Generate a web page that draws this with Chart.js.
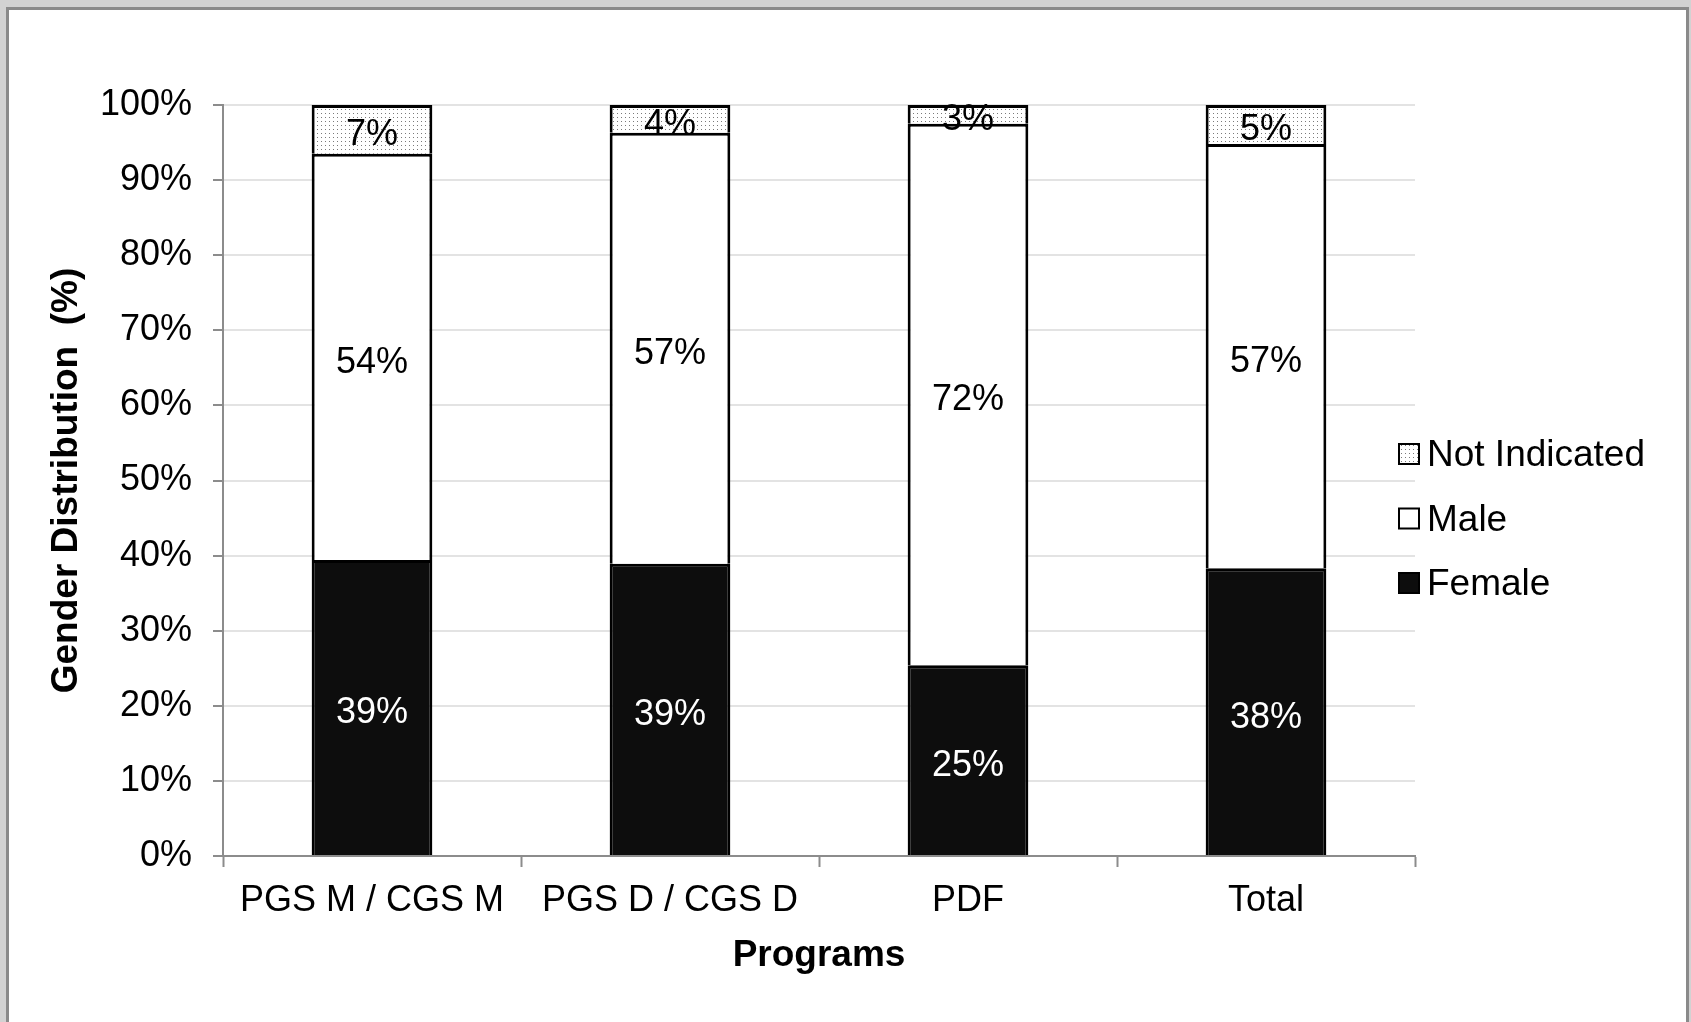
<!DOCTYPE html>
<html>
<head>
<meta charset="utf-8">
<script src="https://cdn.jsdelivr.net/npm/chart.js@4.4.1/dist/chart.umd.min.js"></script>
<style>
  html, body { margin: 0; padding: 0; width: 1691px; height: 1022px; overflow: hidden; background: #d2d2d2; }
  #frame { position: absolute; left: 6px; top: 7px; width: 1677px; height: 1040px; border: 3px solid #8a8a8a; background: #fff; }
  #wrap { position: absolute; left: 0; top: 0; width: 1691px; height: 1022px; }
</style>
</head>
<body>
<div id="frame"></div>
<div id="wrap"><canvas id="chart" width="1691" height="1022"></canvas></div>
<script>
// ---- data ----
const PROGRAMS      = ['PGS M / CGS M', 'PGS D / CGS D', 'PDF', 'Total'];
const FEMALE        = [39.4, 38.9, 25.4, 38.3];
const MALE          = [54.1, 57.4, 72.1, 56.5];
const NOT_INDICATED = [6.5, 3.7, 2.5, 5.2];
const Y_MIN = 0, Y_MAX = 100, Y_STEP = 10;

const FONT = '"Liberation Sans", Arial, sans-serif';
Chart.defaults.font.family = FONT;
Chart.defaults.color = '#000';

const AXIS_GREY = '#8c8c8c';
const GRID_GREY = '#e3e3e3';

// dotted fill used for "Not Indicated"
function dotPattern() {
  const c = document.createElement('canvas');
  c.width = 4; c.height = 4;
  const g = c.getContext('2d');
  g.fillStyle = '#ffffff';
  g.fillRect(0, 0, 4, 4);
  g.fillStyle = '#7a7a7a';
  g.fillRect(1, 1, 1, 1);
  return g.createPattern(c, 'repeat');
}

// ─── value labels centred in each segment ───
const valueLabels = {
  id: 'valueLabels',
  afterDatasetsDraw(chart) {
    const ctx = chart.ctx;
    ctx.save();
    ctx.font = '36px ' + FONT;
    ctx.textAlign = 'center';
    ctx.textBaseline = 'middle';
    chart.data.datasets.forEach((ds, i) => {
      chart.getDatasetMeta(i).data.forEach((bar, j) => {
        ctx.fillStyle = ds.labelColor;
        ctx.fillText(Math.round(ds.data[j]) + '%', bar.x, (bar.y + bar.base) / 2 + 6);
      });
    });
    ctx.restore();
  }
};

// ─── legend on the right, overlapping the plot edge like the original ───
const sideLegend = {
  id: 'sideLegend',
  afterDraw(chart) {
    const ctx = chart.ctx;
    const area = chart.chartArea;
    const x0 = area.right - 16;
    const y0 = area.top + 349;
    ctx.save();
    ctx.font = '37px ' + FONT;
    ctx.textAlign = 'left';
    ctx.textBaseline = 'middle';
    [...chart.data.datasets].reverse().forEach((ds, k) => {
      const cy = y0 + k * 64.5;
      ctx.fillStyle = ds.backgroundColor;
      ctx.fillRect(x0, cy - 10, 20, 20);
      ctx.strokeStyle = '#000';
      ctx.lineWidth = 2;
      ctx.strokeRect(x0, cy - 10, 20, 20);
      ctx.fillStyle = '#000';
      ctx.fillText(ds.label, x0 + 28, cy + 2);
    });
    ctx.restore();
  }
};

const barStyle = { borderColor: '#000', borderWidth: 3, barPercentage: 0.405, categoryPercentage: 1 };

new Chart(document.getElementById('chart'), {
  type: 'bar',
  data: {
    labels: PROGRAMS,
    datasets: [
      { label: 'Female',        data: FEMALE,        backgroundColor: '#0d0d0d', labelColor: '#fff', ...barStyle },
      { label: 'Male',          data: MALE,          backgroundColor: '#ffffff', labelColor: '#000', ...barStyle },
      { label: 'Not Indicated', data: NOT_INDICATED, backgroundColor: dotPattern(), labelColor: '#000', ...barStyle },
    ]
  },
  options: {
    responsive: false,
    animation: false,
    layout: { padding: { left: 20, top: 105, right: 276, bottom: 0 } },
    plugins: {
      legend: { display: false },
      tooltip: { enabled: false }
    },
    scales: {
      x: {
        stacked: true,
        offset: true,
        grid: { drawOnChartArea: false, drawTicks: true, offset: true, tickLength: 11, tickColor: AXIS_GREY, tickWidth: 2 },
        border: { color: AXIS_GREY, width: 2 },
        ticks: { color: '#000', font: { size: 36 }, padding: 12, maxRotation: 0, autoSkip: false },
        title: { display: true, text: 'Programs', color: '#000', font: { size: 37, weight: 'bold' }, padding: { top: 0, bottom: 44 } },
        afterFit: s => { s.height = 166; }
      },
      y: {
        stacked: true,
        min: Y_MIN,
        max: Y_MAX,
        ticks: { stepSize: Y_STEP, callback: v => v + '%', color: '#000', font: { size: 36 }, padding: 21 },
        grid: { color: GRID_GREY, lineWidth: 2, tickLength: 10, tickColor: AXIS_GREY, tickWidth: 2 },
        border: { color: AXIS_GREY, width: 2 },
        title: { display: true, text: 'Gender Distribution  (%)', color: '#000', font: { size: 37, weight: 'bold' }, padding: { top: 25, bottom: 11 } },
        afterFit: s => { s.width = 203; }
      }
    }
  },
  plugins: [valueLabels, sideLegend]
});
</script>
</body>
</html>
